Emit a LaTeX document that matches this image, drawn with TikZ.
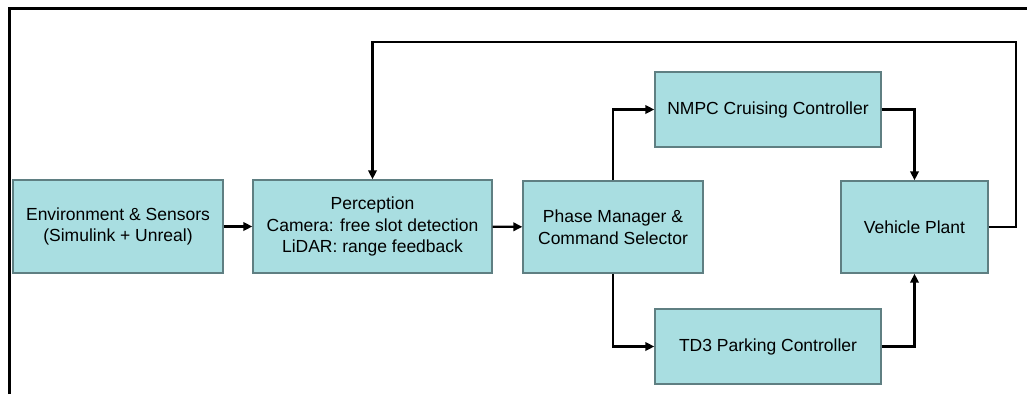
\documentclass[tikz,border=0pt]{standalone}
\usepackage{fontspec}
\setmainfont{Liberation Sans}
\usepackage{tikz}
\usetikzlibrary{arrows.meta}
\definecolor{boxfill}{HTML}{A9DEE1}
\definecolor{boxline}{HTML}{5F7F82}
\tikzset{
  block/.style={draw=boxline, line width=1.4pt, fill=boxfill, align=center,
    inner sep=0pt, font=\fontsize{17.5}{21.5}\selectfont},
  sig/.style={draw, line width=2.2pt, -{Triangle[length=9pt,width=8.5pt]}},
}
\begin{document}
\begin{tikzpicture}[x=1pt,y=-1pt]
\useasboundingbox (0,0) rectangle (1027,394);
\draw[line width=2.8pt]
  (9.5,394) -- (9.5,8.5) -- (1027,8.5);
\node[block, minimum width=210pt, minimum height=93pt] (env)
  at (118,226.5) {Environment \& Sensors\\(Simulink + Unreal)};
\node[block, minimum width=239pt, minimum height=93pt] (perc)
  at (372.5,226.5) {Perception\\Camera: free slot detection\\LiDAR: range feedback};
\node[block, minimum width=180pt, minimum height=92pt] (phase)
  at (613,227) {Phase Manager \&\\Command Selector};
\node[block, minimum width=226pt, minimum height=75pt] (nmpc)
  at (768,109.5) {NMPC Cruising Controller};
\node[block, minimum width=226pt, minimum height=75pt] (td3)
  at (768,346.5) {TD3 Parking Controller};
\node[block, minimum width=147pt, minimum height=92pt] (plant)
  at (914.5,227) {Vehicle Plant};
\coordinate (fb) at (1016,42);
\draw[sig] (env) -- (perc);
\draw[sig] (perc) -- (phase);
\draw[sig] (phase.north) |- (nmpc.west);
\draw[sig] (phase.south) |- (td3.west);
\draw[sig] (nmpc.east) -| (plant.north);
\draw[sig] (td3.east) -| (plant.south);
\draw[sig] (plant.east) -| (fb) -| (perc.north);
\end{tikzpicture}
\end{document}
